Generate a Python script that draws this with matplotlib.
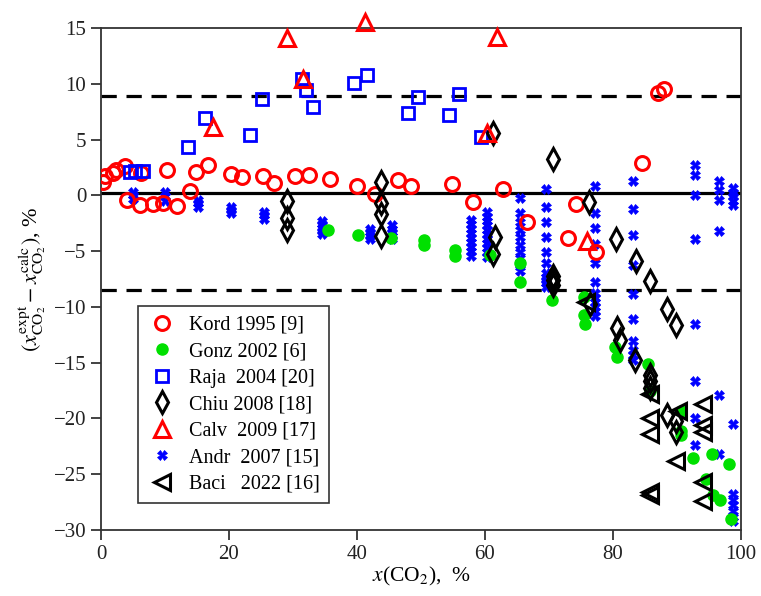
import matplotlib
matplotlib.use("Agg")
import matplotlib.pyplot as plt

plt.rcParams['font.family'] = ['Liberation Serif', 'DejaVu Serif']
plt.rcParams['mathtext.fontset'] = 'stix'
plt.rcParams['lines.scale_dashes'] = False

# ---- data ----
kord_x = [0.3, 0.6, 1.9, 2.4, 3.75, 4.0, 6.1, 6.2, 8.1, 9.7, 10.3, 11.9, 13.9, 14.9, 16.7, 20.3, 22.0,
          25.3, 27.0, 30.3, 32.5, 35.8, 40.0, 42.8, 46.4, 48.4, 54.9, 58.2, 62.8, 66.5, 72.9, 74.2,
          77.4, 84.6, 87.0, 88.0]
kord_y = [1.2, 1.7, 2.0, 2.3, 2.6, -0.4, -0.85, 2.0, -0.8, -0.7, 2.3, -0.95, 0.35, 2.1, 2.7, 1.9, 1.6,
          1.75, 1.15, 1.75, 1.8, 1.5, 0.8, 0.1, 1.4, 0.85, 1.0, -0.6, 0.6, -2.4, -3.85, -0.8,
          -5.1, 2.9, 9.2, 9.55]

gonz_x = [35.5, 40.2, 45.3, 50.4, 50.4, 55.3, 55.3, 60.8, 65.5, 65.5, 70.4, 75.4, 75.4, 75.6, 80.3,
          80.6, 85.5, 85.8, 90.7, 90.7, 90.7, 92.5, 95.4, 98.2, 94.6, 95.7, 96.7, 98.5]
gonz_y = [-3.1, -3.55, -3.85, -4.0, -4.45, -4.9, -5.4, -5.35, -6.1, -7.75, -9.4, -9.1, -10.7, -11.5,
          -13.6, -14.5, -15.1, -17.5, -19.3, -21.1, -21.5, -23.5, -23.2, -24.1, -25.4, -26.9, -27.3, -29.0]

raja_x = [4.5, 5.3, 6.6, 13.6, 16.3, 23.3, 25.2, 31.4, 32.1, 33.1, 39.5, 41.6, 48.0, 49.5, 54.4, 55.9, 59.4]
raja_y = [2.05, 2.2, 2.2, 4.35, 6.9, 5.4, 8.6, 10.4, 9.4, 7.9, 10.1, 10.8, 7.4, 8.8, 7.2, 9.1, 5.2]

chiu_x = [29.0, 29.0, 29.0, 43.75, 43.75, 43.75, 43.75, 61.2, 61.5, 61.2, 70.7, 70.7, 70.7, 70.7,
          76.3, 76.4, 80.5, 80.6, 81.1, 83.6, 83.4, 85.8, 85.8, 85.8, 85.8, 88.4, 89.9, 88.4, 89.9, 89.9]
chiu_y = [-0.55, -2.05, -3.1, 1.2, -0.7, -1.65, -3.6, 5.6, -3.75, -5.3, 3.3, -7.2, -7.6, -8.0,
          -0.6, -9.7, -3.9, -11.9, -13.0, -5.9, -14.8, -7.7, -16.1, -16.6, -17.3, -10.2, -11.6,
          -19.7, -20.2, -21.2]

calv_x = [17.5, 29.1, 31.6, 41.3, 60.3, 61.8, 76.0]
calv_y = [6.1, 14.1, 10.4, 15.5, 5.6, 14.2, -4.05]

andr_x = ([5.0] * 3 + [10.0] * 3 + [15.2] * 3 + [20.3] * 3 + [25.4] * 3 + [34.5] * 5 + [42.0] * 4
          + [45.4] * 5 + [57.8] * 9 + [60.3] * 11 + [65.5] * 10 + [69.6] * 11 + [77.2] * 12
          + [83.2] * 10 + [92.8] * 8 + [96.6] * 6 + [98.8] * 12)
andr_y = ([0.3, 0.0, -0.3] + [0.3, -0.1, -0.5] + [-0.4, -0.7, -1.0] + [-1.0, -1.3, -1.6]
          + [-1.5, -1.8, -2.1] + [-2.3, -2.6, -2.9, -3.2, -3.5] + [-3.0, -3.3, -3.6, -3.9]
          + [-2.7, -3.0, -3.3, -3.6, -3.9]
          + [-2.2, -2.6, -3.0, -3.4, -3.8, -4.2, -4.6, -5.0, -5.4]
          + [-1.5, -1.9, -2.3, -2.7, -3.1, -3.5, -3.9, -4.3, -4.7, -5.1, -5.5]
          + [-0.25, -1.6, -2.35, -3.1, -3.7, -4.45, -5.05, -5.65, -6.25, -6.8]
          + [0.55, -1.0, -2.35, -3.75, -5.05, -6.1, -7.0, -7.3, -7.6, -7.9, -8.2]
          + [0.85, -1.55, -2.9, -4.4, -6.1, -7.75, -8.75, -9.2, -9.6, -10.0, -10.4, -10.8]
          + [1.25, -1.25, -3.55, -6.2, -8.85, -11.1, -13.1, -13.9, -14.3, -14.8]
          + [2.75, 1.85, 0.05, -3.9, -11.5, -16.6, -20.0, -22.4]
          + [1.25, 0.5, -0.4, -3.2, -17.9, -23.2]
          + [0.65, 0.2, -0.1, -0.5, -0.85, -20.5, -26.8, -27.3, -27.8, -28.3, -28.8, -29.2])

baci_x = [75.8, 85.8, 85.8, 85.8, 85.8, 85.8, 90.2, 89.9, 94.1, 94.1, 94.1, 94.1, 94.1]
baci_y = [-9.6, -17.8, -20.0, -21.4, -26.6, -26.9, -19.3, -23.8, -18.7, -20.6, -21.2, -25.7, -27.4]

ref_zero = 0.2
ref_upper = 8.9
ref_lower = -8.5

labels = ['Kord 1995 [9]', 'Gonz 2002 [6]', 'Raja  2004 [20]', 'Chiu 2008 [18]',
          'Calv  2009 [17]', 'Andr  2007 [15]', 'Baci   2022 [16]']
xticks = [0, 20, 40, 60, 80, 100]
yticks = [15, 10, 5, 0, -5, -10, -15, -20, -25, -30]

# ---- figure ----
fig = plt.figure(figsize=(7.61, 5.96), dpi=100)
ax = fig.add_axes([0.1327, 0.1107, 0.8410, 0.8423])

ax.axhline(ref_zero, color='black', lw=2.3, zorder=1)
ax.axhline(ref_upper, color='black', lw=2.3, dashes=(11, 7), zorder=1)
ax.axhline(ref_lower, color='black', lw=2.3, dashes=(11, 7), zorder=1)

h_andr, = ax.plot(andr_x, andr_y, 'X', color='blue', ms=7, mec='blue', mew=0.5, ls='none', zorder=2)
h_gonz, = ax.plot(gonz_x, gonz_y, 'o', color='#00e000', ms=8, mec='#00e000', ls='none', zorder=2)
h_kord, = ax.plot(kord_x, kord_y, 'o', mfc='none', mec='red', ms=10, mew=2.2, ls='none', zorder=3)
h_raja, = ax.plot(raja_x, raja_y, 's', mfc='none', mec='blue', ms=8.5, mew=2.0, ls='none', zorder=3)
h_chiu, = ax.plot(chiu_x, chiu_y, 'd', mfc='none', mec='black', ms=11, mew=2.2, ls='none', zorder=4)
h_calv, = ax.plot(calv_x, calv_y, '^', mfc='none', mec='red', ms=11, mew=2.2, ls='none', zorder=4,
                  clip_on=False)
h_baci, = ax.plot(baci_x, baci_y, '<', mfc='none', mec='black', ms=11, mew=2.2, ls='none', zorder=4)

ax.set_xlim(0, 100)
ax.set_ylim(-30, 15)
ax.set_xticks(xticks)
ax.set_yticks(yticks)
ax.set_yticklabels([str(v).replace('-', '\u2212') for v in yticks])
ax.tick_params(direction='out', length=7, width=1.2, labelsize=15, colors='#222222')
for s in ax.spines.values():
    s.set_linewidth(1.3)
    s.set_color('#333333')

ax.set_xlabel(r'$x$(CO$_2$),  %', fontsize=15.5, labelpad=1)
ax.set_ylabel(r'$(x^{\rm expt}_{\rm CO_2} - x^{\rm calc}_{\rm CO_2})$, %', fontsize=16, labelpad=4)

leg = ax.legend([h_kord, h_gonz, h_raja, h_chiu, h_calv, h_andr, h_baci], labels,
                loc='lower left', bbox_to_anchor=(0.058, 0.054), fontsize=14.5,
                frameon=True, fancybox=False, framealpha=1, edgecolor='#333333',
                handletextpad=0.6, borderpad=0.45, labelspacing=0.37, handlelength=1.5,
                borderaxespad=0)
leg.get_frame().set_linewidth(1.2)

fig.savefig('out.png', dpi=100)
